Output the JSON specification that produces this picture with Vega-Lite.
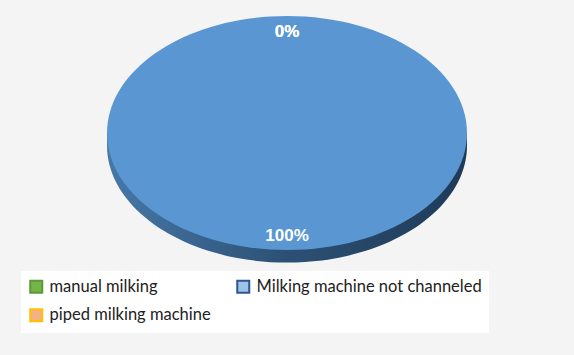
{
  "$schema": "https://vega.github.io/schema/vega-lite/v6.json",
  "width": 574,
  "height": 266,
  "autosize": {"type": "none"},
  "padding": {"left": 0, "right": 0, "top": 0, "bottom": 89},
  "background": "#f4f4f4",
  "data": {"values": [
    {"category": "manual milking", "share": 0},
    {"category": "Milking machine not channeled", "share": 1},
    {"category": "piped milking machine", "share": 0}
  ]},
  "layer": [
    {
      "transform": [{"filter": "datum.share > 0"}],
      "mark": {"type": "point", "filled": true, "size": 129600, "opacity": 1,
        "shape": "M -1 0 L -1 0.07 A 1 0.65 0 0 0 1 0.07 L 1 0 Z",
        "color": {"gradient": "linear", "x1": 0, "x2": 1, "y1": 0, "y2": 0,
          "stops": [{"offset": 0, "color": "#4678a8"}, {"offset": 0.5, "color": "#2c5074"}, {"offset": 1, "color": "#1f3a57"}]}},
      "encoding": {}
    },
    {
      "transform": [{"filter": "datum.share > 0"}],
      "mark": {"type": "point", "filled": true, "size": 129600, "opacity": 1,
        "shape": "M -1 0 A 1 0.65 0 1 1 1 0 A 1 0.65 0 1 1 -1 0 Z",
        "color": "#5a97d2"},
      "encoding": {}
    },
    {
      "mark": {"type": "point", "filled": true, "opacity": 0, "strokeWidth": 2},
      "encoding": {
        "fill": {"field": "category", "type": "nominal",
          "scale": {"domain": ["manual milking", "Milking machine not channeled", "piped milking machine"], "range": ["#74b44a", "#9dc3e6", "#f4b183"]},
          "legend": {"orient": "none", "legendX": 21, "legendY": 271, "columns": 2, "direction": "horizontal", "title": null,
            "labelFont": "Lato", "labelFontSize": 16.5, "labelColor": "#222222", "labelLimit": 400, "symbolType": "square",
            "symbolSize": 144, "symbolStrokeWidth": 2, "symbolOpacity": 1, "rowPadding": 8, "columnPadding": 22,
            "labelOffset": 5, "fillColor": "white", "padding": 7}},
        "stroke": {"field": "category", "type": "nominal",
          "scale": {"domain": ["manual milking", "Milking machine not channeled", "piped milking machine"], "range": ["#5a9a34", "#2f5597", "#ffc000"]},
          "legend": {"orient": "none", "legendX": 21, "legendY": 271, "columns": 2, "direction": "horizontal", "title": null,
            "labelFont": "Lato", "labelFontSize": 16.5, "labelColor": "#222222", "labelLimit": 400, "symbolType": "square",
            "symbolSize": 144, "symbolStrokeWidth": 2, "symbolOpacity": 1, "rowPadding": 8, "columnPadding": 22,
            "labelOffset": 5, "fillColor": "white", "padding": 7}}
      }
    },
    {
      "mark": {"type": "text", "radius": 102, "fontSize": 17, "fontWeight": "bold", "font": "Liberation Sans", "color": "white", "baseline": "middle", "align": "center", "dy": 1},
      "encoding": {
        "theta": {"field": "share", "type": "quantitative", "stack": true},
        "text": {"field": "share", "type": "quantitative", "format": ".0%"}
      }
    }
  ]
}
